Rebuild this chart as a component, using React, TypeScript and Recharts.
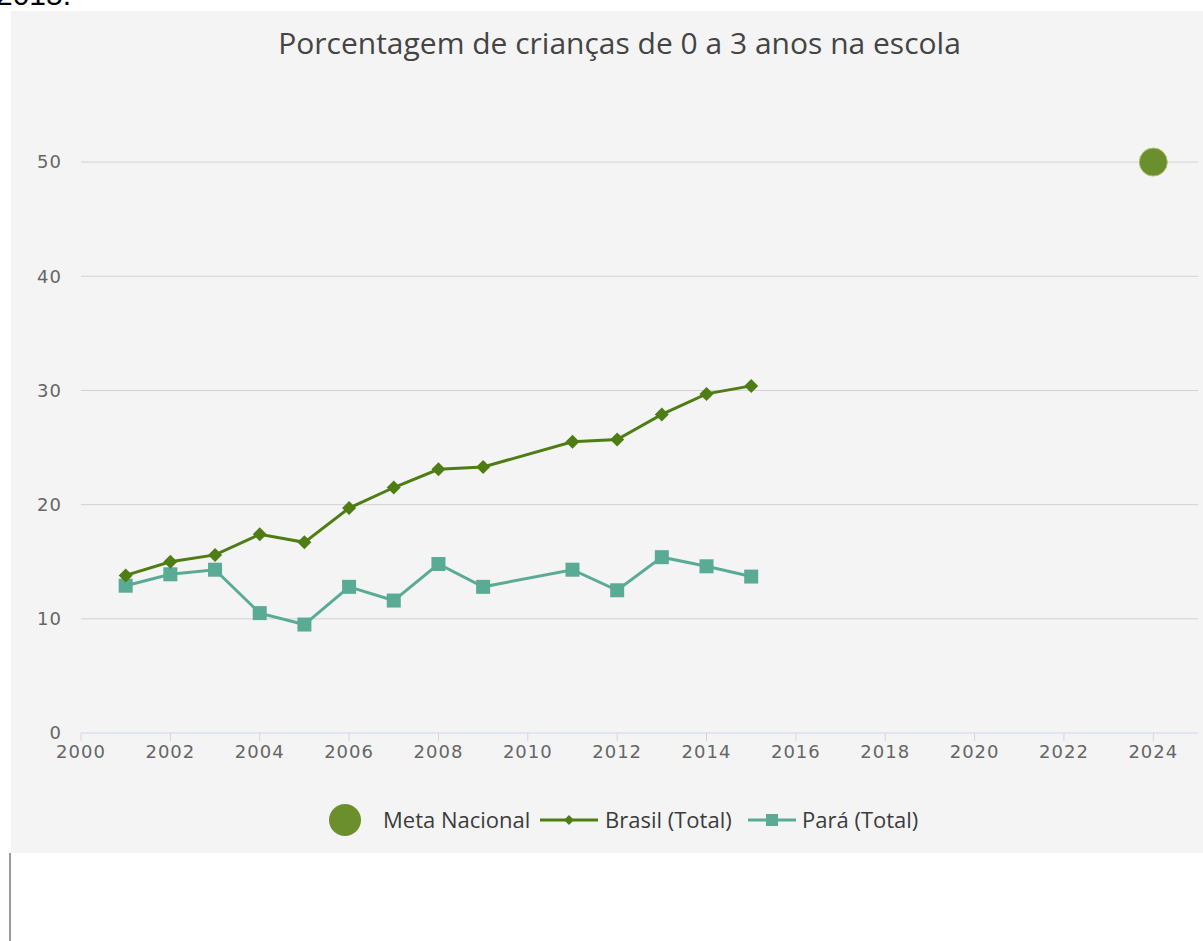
import React from 'react';
import { ComposedChart, Line, Scatter, XAxis, YAxis, CartesianGrid } from 'recharts';

const years = [2001, 2002, 2003, 2004, 2005, 2006, 2007, 2008, 2009, 2011, 2012, 2013, 2014, 2015];
const brasil = [13.8, 15.0, 15.6, 17.4, 16.7, 19.7, 21.5, 23.1, 23.3, 25.5, 25.7, 27.9, 29.7, 30.4];
const para = [12.9, 13.9, 14.3, 10.5, 9.5, 12.8, 11.6, 14.8, 12.8, 14.3, 12.5, 15.4, 14.6, 13.7];
const metaYears = [2024];
const metaValues = [50];
const xTicks = [2000, 2002, 2004, 2006, 2008, 2010, 2012, 2014, 2016, 2018, 2020, 2022, 2024];
const yTicks = [0, 10, 20, 30, 40, 50];
const gridValues = [10, 20, 30, 40, 50];

const BRASIL = '#4e7d14';
const PARA = '#5aab96';
const META = '#6b8f2c';
const FONT = '"Open Sans", sans-serif';
const TICK_FONT = '"DejaVu Sans", sans-serif';

const brasilData = years.map((year, i) => ({ year, value: brasil[i] }));
const paraData = years.map((year, i) => ({ year, value: para[i] }));
const metaData = metaYears.map((year, i) => ({ year, value: metaValues[i] }));

const Diamond = (props: any) => {
  const { cx, cy, key } = props;
  if (cx == null || cy == null) return null;
  const r = 7;
  return (
    <polygon
      key={key}
      points={`${cx},${cy - r} ${cx + r},${cy} ${cx},${cy + r} ${cx - r},${cy}`}
      fill={BRASIL}
    />
  );
};

const Square = (props: any) => {
  const { cx, cy, key } = props;
  if (cx == null || cy == null) return null;
  return <rect key={key} x={cx - 7} y={cy - 7} width={14} height={14} fill={PARA} />;
};

const BigDot = (props: any) => {
  const { cx, cy } = props;
  return <circle cx={cx} cy={cy} r={14} fill={META} stroke="#a9c26a" strokeWidth={1} />;
};

// legend drawn by hand, positions are relative to the grey panel
function LegendRow() {
  const text: React.CSSProperties = {
    position: 'absolute',
    top: 795,
    fontFamily: FONT,
    fontSize: 22,
    color: '#3c3c3c',
    whiteSpace: 'nowrap',
    lineHeight: '26px',
  };
  return (
    <>
      <svg style={{ position: 'absolute', left: 316, top: 791 }} width={36} height={36}>
        <circle cx={18} cy={18} r={16} fill={META} />
      </svg>
      <span style={{ ...text, left: 372 }}>Meta Nacional</span>
      <svg style={{ position: 'absolute', left: 527, top: 799 }} width={62} height={20}>
        <line x1={2} y1={10} x2={60} y2={10} stroke={BRASIL} strokeWidth={3} />
        <polygon points="31,5 36,10 31,15 26,10" fill={BRASIL} />
      </svg>
      <span style={{ ...text, left: 594 }}>Brasil (Total)</span>
      <svg style={{ position: 'absolute', left: 735, top: 799 }} width={52} height={20}>
        <line x1={2} y1={10} x2={50} y2={10} stroke={PARA} strokeWidth={3} />
        <rect x={20} y={4} width={12} height={12} fill={PARA} />
      </svg>
      <span style={{ ...text, left: 791 }}>Pará (Total)</span>
    </>
  );
}

export default function App() {
  return (
    <div style={{ position: 'absolute', top: 0, left: 0, width: 1203, height: 941, background: '#fff', overflow: 'hidden' }}>
      <div
        style={{
          position: 'absolute',
          top: -22,
          left: -4,
          fontFamily: 'Arial, "Liberation Sans", sans-serif',
          fontSize: 30,
          color: '#000',
        }}
      >
        2015.
      </div>
      <div style={{ position: 'absolute', top: 853, left: 9, width: 2, height: 88, background: '#9a9a9a' }} />
      <div style={{ position: 'absolute', top: 11, left: 11, width: 1192, height: 842, background: '#f4f4f4' }}>
        <div
          style={{
            position: 'absolute',
            top: 11,
            left: 0,
            width: 1217,
            textAlign: 'center',
            fontFamily: FONT,
            fontSize: 30,
            color: '#444',
          }}
        >
          Porcentagem de crianças de 0 a 3 anos na escola
        </div>
        <ComposedChart width={1192} height={842} margin={{ top: 94, right: 5, bottom: 90, left: 0 }}>
          <CartesianGrid vertical={false} horizontalValues={gridValues} stroke="#d2d2d2" strokeWidth={1} />
          <XAxis
            type="number"
            dataKey="year"
            domain={[2000, 2025]}
            ticks={xTicks}
            allowDuplicatedCategory={false}
            height={30}
            tickSize={8}
            tickMargin={4}
            stroke="#ccd6eb"
            tick={{ fill: '#666', fontFamily: TICK_FONT, fontSize: 18, letterSpacing: 1 }}
          />
          <YAxis
            type="number"
            domain={[0, 55]}
            ticks={yTicks}
            width={70}
            axisLine={false}
            tickLine={false}
            tickMargin={13}
            tick={{ fill: '#666', fontFamily: TICK_FONT, fontSize: 18, letterSpacing: 1 }}
          />
          <Line
            data={paraData}
            dataKey="value"
            stroke={PARA}
            strokeWidth={3}
            dot={Square}
            activeDot={false}
            isAnimationActive={false}
          />
          <Line
            data={brasilData}
            dataKey="value"
            stroke={BRASIL}
            strokeWidth={3}
            dot={Diamond}
            activeDot={false}
            isAnimationActive={false}
          />
          <Scatter data={metaData} dataKey="value" shape={BigDot} isAnimationActive={false} />
        </ComposedChart>
        <LegendRow />
      </div>
    </div>
  );
}
